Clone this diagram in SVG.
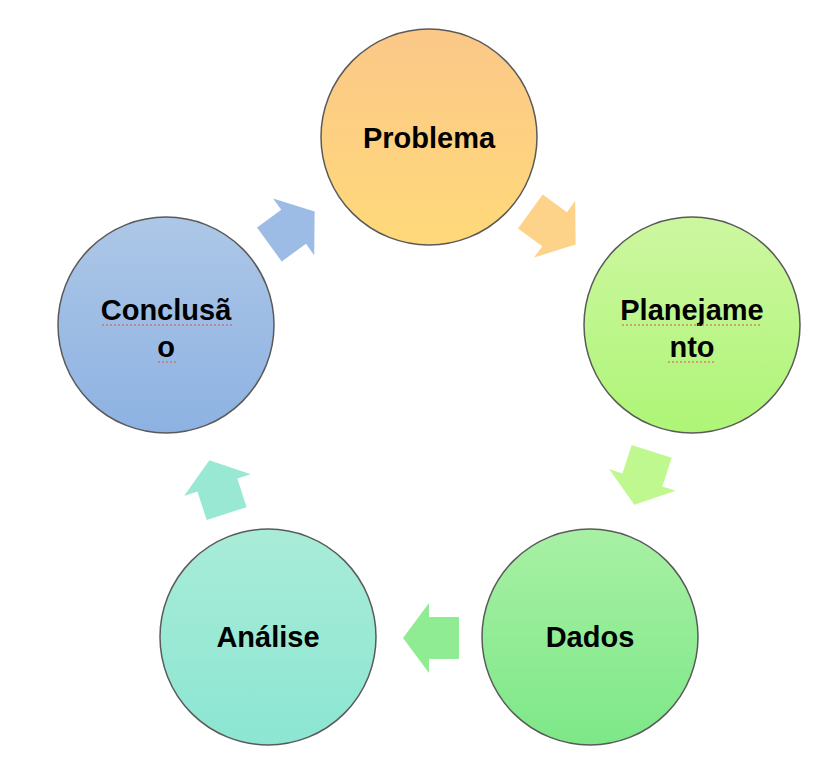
<svg xmlns="http://www.w3.org/2000/svg" width="822" height="760" viewBox="0 0 822 760">
<defs>
<linearGradient id="g1" x1="0" y1="0" x2="0" y2="1"><stop offset="0" stop-color="#fbc888"/><stop offset="1" stop-color="#ffd97a"/></linearGradient>
<linearGradient id="g2" x1="0" y1="0" x2="0" y2="1"><stop offset="0" stop-color="#cdf7a0"/><stop offset="1" stop-color="#aef577"/></linearGradient>
<linearGradient id="g3" x1="0" y1="0" x2="0" y2="1"><stop offset="0" stop-color="#a8f0a4"/><stop offset="1" stop-color="#7de888"/></linearGradient>
<linearGradient id="g4" x1="0" y1="0" x2="0" y2="1"><stop offset="0" stop-color="#a9ecd8"/><stop offset="1" stop-color="#8be6d2"/></linearGradient>
<linearGradient id="g5" x1="0" y1="0" x2="0" y2="1"><stop offset="0" stop-color="#adc7e7"/><stop offset="1" stop-color="#8db2e2"/></linearGradient>
<path id="arr" d="M-28,-21 H2 V-35 L28,0 L2,35 V21 H-28 Z"/>
</defs>
<style>
circle{stroke:#5a5a5a;stroke-width:1.5}
text{font-family:"Liberation Sans",Arial,sans-serif;font-weight:bold;font-size:29px;fill:#000;text-anchor:middle}
.sq{stroke:#e05050;stroke-width:1.2;stroke-dasharray:2 2;fill:none}
</style>
<rect width="822" height="760" fill="#fff"/>
<g id="connectors">
<use href="#arr" fill="#fdd38a" transform="translate(553,228) rotate(36)"/>
<use href="#arr" fill="#bff88e" transform="translate(643,478) rotate(108)"/>
<use href="#arr" fill="#8fec93" transform="translate(431,638) rotate(180)"/>
<use href="#arr" fill="#99e8d4" transform="translate(218,487) rotate(252)"/>
<use href="#arr" fill="#9dbce5" transform="translate(292,228) rotate(324)"/>
</g>
<g id="problema"><circle cx="429" cy="137" r="108" fill="url(#g1)"/><text x="429" y="148">Problema</text></g>
<g id="planejamento"><circle cx="692" cy="325" r="108" fill="url(#g2)"/><text x="692" y="320">Planejame</text><text x="692" y="357">nto</text><path class="sq" d="M622,325 H762 M668,362 H716"/></g>
<g id="dados"><circle cx="590" cy="637" r="108" fill="url(#g3)"/><text x="590" y="647">Dados</text></g>
<g id="analise"><circle cx="268" cy="637" r="108" fill="url(#g4)"/><text x="268" y="647">Análise</text></g>
<g id="conclusao"><circle cx="166" cy="325" r="108" fill="url(#g5)"/><text x="166" y="320">Conclusã</text><text x="166" y="357">o</text><path class="sq" d="M102,325 H232 M158,362 H176"/></g>
</svg>
